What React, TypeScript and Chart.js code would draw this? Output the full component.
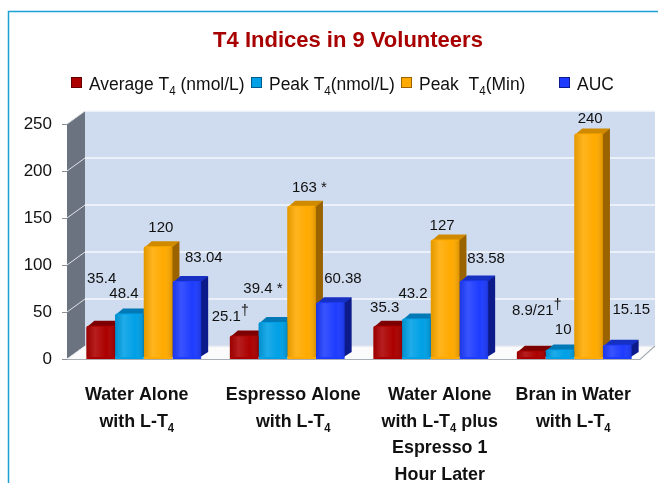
import { useEffect, useRef } from "react";
import { Chart, registerables } from "chart.js";

Chart.register(...registerables);

// ---------- data ----------
const CATEGORIES: string[][] = [
  ["Water Alone", "with L-T_4"],
  ["Espresso Alone", "with L-T_4"],
  ["Water Alone", "with L-T_4 plus", "Espresso 1", "Hour Later"],
  ["Bran in Water", "with L-T_4"],
];
const SERIES_NAMES = ["Average T_4 (nmol/L)", "Peak T_4(nmol/L)", "Peak  T_4(Min)", "AUC"];
const AVERAGE_T4 = [35.4, 25.1, 35.3, 8.9];
const PEAK_T4 = [48.4, 39.4, 43.2, 10];
const PEAK_TIME = [120, 163, 127, 240];
const AUC = [83.04, 60.38, 83.58, 15.15];
const AVERAGE_T4_TEXT = ["35.4", "25.1^†", "35.3", "8.9/21^†"];
const PEAK_T4_TEXT = ["48.4", "39.4 *", "43.2", "10"];
const PEAK_TIME_TEXT = ["120", "163 *", "127", "240"];
const AUC_TEXT = ["83.04", "60.38", "83.58", "15.15"];
const Y_MIN = 0;
const Y_MAX = 250;
const Y_STEP = 50;
const TITLE = "T4 Indices in 9 Volunteers";

// ---------- layout / style ----------
const SERIES = [AVERAGE_T4, PEAK_T4, PEAK_TIME, AUC];
const SERIES_TEXT = [AVERAGE_T4_TEXT, PEAK_T4_TEXT, PEAK_TIME_TEXT, AUC_TEXT];
const FRONT = ["#ac0000", "#00a0e6", "#ffaa00", "#1e3cff"];
const TOPC = ["#7c0000", "#0079b6", "#cf8a00", "#1630c4"];
const SIDE = ["#640000", "#005b8c", "#9a6300", "#0c1a8a"];
// label offsets (dx, dy) relative to bar front-top centre
const LABEL_OFFSETS: number[][][] = [
  [[1, -48], [-14, -20], [-3, -19], [5.5, -41]],
  [[-5.5, -20.5], [-10, -34], [-3.4, -26], [3.3, -21]],
  [[2.7, -20], [7.8, -19], [-3, -15], [1.6, -16]],
  [[17, -24], [12.6, -25], [12.3, -23], [14, -36]],
];
const LEGEND_X = [71, 251, 401, 559];
const X_LABEL_DX = [-7, 6, 9, -1];
const FAM = "'Liberation Sans', Arial, Helvetica, sans-serif";
const D3X = 7;
const D3Y = 5;

type Seg = { t: string; k: "n" | "sub" | "sup"; w?: number };

function drawRich(
  ctx: CanvasRenderingContext2D,
  text: string,
  x: number,
  y: number,
  size: number,
  bold: boolean,
  align: "left" | "center",
  color: string,
  hs = 1
) {
  const segs: Seg[] = [];
  let buf = "";
  for (let i = 0; i < text.length; i++) {
    const ch = text[i];
    if ((ch === "_" || ch === "^") && i + 1 < text.length) {
      if (buf) segs.push({ t: buf, k: "n" });
      buf = "";
      segs.push({ t: text[i + 1], k: ch === "_" ? "sub" : "sup" });
      i++;
    } else buf += ch;
  }
  if (buf) segs.push({ t: buf, k: "n" });
  const fontFor = (k: string) => {
    const s = k === "n" ? size : k === "sub" ? Math.round(size * 0.65) : Math.round(size * 0.9);
    return `${bold ? "bold " : ""}${s}px ${FAM}`;
  };
  let w = 0;
  for (const s of segs) {
    ctx.font = fontFor(s.k);
    s.w = ctx.measureText(s.t).width;
    w += s.w;
  }
  const start = align === "center" ? x - (w * hs) / 2 : x;
  ctx.save();
  ctx.translate(start, y);
  ctx.scale(hs, 1);
  ctx.textAlign = "left";
  ctx.textBaseline = "alphabetic";
  ctx.fillStyle = color;
  let cx = 0;
  for (const s of segs) {
    ctx.font = fontFor(s.k);
    const dy = s.k === "sub" ? size * 0.28 : s.k === "sup" ? -size * 0.38 : 0;
    ctx.fillText(s.t, cx, dy);
    cx += s.w || 0;
  }
  ctx.restore();
}

function poly(ctx: CanvasRenderingContext2D, pts: number[][], fill: string) {
  ctx.beginPath();
  ctx.moveTo(pts[0][0], pts[0][1]);
  for (let i = 1; i < pts.length; i++) ctx.lineTo(pts[i][0], pts[i][1]);
  ctx.closePath();
  ctx.fillStyle = fill;
  ctx.fill();
}

const decoPlugin = {
  id: "deco3d",
  beforeDraw(chart: any) {
    const { ctx, chartArea: ca } = chart;
    const ys = chart.scales.y;
    ctx.save();
    ctx.fillStyle = "#ffffff";
    ctx.fillRect(0, 0, chart.width, chart.height);
    // frame
    ctx.strokeStyle = "#1ba1d6";
    ctx.lineWidth = 1.5;
    ctx.beginPath();
    ctx.moveTo(8.5, chart.height);
    ctx.lineTo(8.5, 11.5);
    ctx.lineTo(chart.width, 11.5);
    ctx.stroke();

    const fx = ca.left - 5;
    const bx = fx + 18;
    const DY = 13;
    const top = ys.getPixelForValue(Y_MAX);
    const base = ys.getPixelForValue(Y_MIN);
    const right = ca.right + 9;
    // back wall
    ctx.fillStyle = "#cfdbee";
    ctx.fillRect(bx, top - DY, right - bx, base - top);
    // left wall
    poly(ctx, [[fx, top], [bx, top - DY], [bx, base - DY], [fx, base]], "#6b7380");
    // floor
    poly(ctx, [[fx, base], [bx, base - DY], [right, base - DY], [right - 15, base]], "#fbfbfb");
    // grid lines
    for (let v = Y_MIN; v <= Y_MAX; v += Y_STEP) {
      const py = ys.getPixelForValue(v);
      ctx.strokeStyle = v === Y_MIN ? "#e2e6ee" : "#f4f7fc";
      ctx.lineWidth = 1.5;
      ctx.beginPath();
      ctx.moveTo(bx, py - DY);
      ctx.lineTo(right, py - DY);
      ctx.stroke();
      ctx.strokeStyle = "#dfe3ea";
      ctx.lineWidth = 1;
      ctx.beginPath();
      ctx.moveTo(fx, py);
      ctx.lineTo(bx, py - DY);
      ctx.stroke();
      ctx.strokeStyle = "#8a8f98";
      ctx.beginPath();
      ctx.moveTo(fx - 5, py + 0.5);
      ctx.lineTo(fx, py + 0.5);
      ctx.stroke();
    }
    // floor front edges
    ctx.strokeStyle = "#a9adb4";
    ctx.lineWidth = 1.2;
    ctx.beginPath();
    ctx.moveTo(fx, base + 0.5);
    ctx.lineTo(right - 15, base + 0.5);
    ctx.lineTo(right, base - DY);
    ctx.stroke();
    ctx.restore();
  },
  beforeDatasetsDraw(chart: any) {
    const { ctx } = chart;
    ctx.save();
    const groups = CATEGORIES.length;
    for (let g = 0; g < groups; g++) {
      for (let d = 0; d < SERIES.length; d++) {
        const el = chart.getDatasetMeta(d).data[g];
        if (!el) continue;
        const l = el.x - el.width / 2;
        const r = el.x + el.width / 2;
        const t = el.y;
        const b = el.base - 2;
        poly(ctx, [[r - 1, t], [r + D3X, t - D3Y], [r + D3X, b - D3Y], [r - 1, b]], SIDE[d]);
        poly(ctx, [[l + 1, t + 1], [l + D3X + 1, t - D3Y], [r + D3X, t - D3Y], [r, t + 1]], TOPC[d]);
      }
    }
    ctx.restore();
  },
  afterDatasetsDraw(chart: any) {
    const { ctx } = chart;
    ctx.save();
    for (let d = 0; d < SERIES.length; d++) {
      const meta = chart.getDatasetMeta(d);
      meta.data.forEach((el: any) => {
        const l = el.x - el.width / 2;
        const r = el.x + el.width / 2;
        const grad = ctx.createLinearGradient(l, 0, r, 0);
        grad.addColorStop(0, "rgba(0,0,0,0.10)");
        grad.addColorStop(0.3, "rgba(255,255,255,0.12)");
        grad.addColorStop(0.7, "rgba(255,255,255,0.0)");
        grad.addColorStop(1, "rgba(0,0,0,0.14)");
        ctx.fillStyle = grad;
        ctx.fillRect(l, el.y + 1, r - l, el.base - 2 - el.y - 1);
      });
    }
    // data labels
    for (let d = 0; d < SERIES.length; d++) {
      const meta = chart.getDatasetMeta(d);
      meta.data.forEach((el: any, g: number) => {
        const [dx, dy] = LABEL_OFFSETS[d][g];
        drawRich(ctx, SERIES_TEXT[d][g], el.x + dx, el.y + dy + 5.4, 15, false, "center", "#111111");
      });
    }
    ctx.restore();
  },
  afterDraw(chart: any) {
    const { ctx } = chart;
    const xs = chart.scales.x;
    ctx.save();
    // title
    ctx.font = `bold 22px ${FAM}`;
    ctx.fillStyle = "#a80000";
    ctx.textAlign = "center";
    ctx.textBaseline = "alphabetic";
    ctx.fillText(TITLE, 348, 47);
    // legend
    SERIES_NAMES.forEach((name, i) => {
      const sx = LEGEND_X[i];
      const sy = 77;
      ctx.fillStyle = FRONT[i];
      ctx.fillRect(sx, sy, 11, 11);
      ctx.strokeStyle = SIDE[i];
      ctx.lineWidth = 1;
      ctx.strokeRect(sx + 0.5, sy + 0.5, 10, 10);
      drawRich(ctx, name, sx + 18, 89.5, 18, false, "left", "#111111", 0.97);
    });
    // category labels
    CATEGORIES.forEach((lines, i) => {
      const cx = xs.getPixelForValue(i) + X_LABEL_DX[i];
      lines.forEach((ln, j) => {
        drawRich(ctx, ln, cx, 400 + j * 26.5, 19, true, "center", "#111111", 0.94);
      });
    });
    ctx.restore();
  },
};

export default function App() {
  const ref = useRef<HTMLCanvasElement | null>(null);
  useEffect(() => {
    if (!ref.current) return;
    const chart = new Chart(ref.current, {
      type: "bar",
      data: {
        labels: CATEGORIES.map((c) => c.join(" ").replace(/_/g, "")),
        datasets: SERIES.map((vals, i) => ({
          label: SERIES_NAMES[i].replace(/_/g, ""),
          data: vals,
          backgroundColor: FRONT[i],
          borderWidth: 0,
          borderRadius: 2,
          categoryPercentage: 0.8,
          barPercentage: 1.0,
        })),
      },
      options: {
        responsive: false,
        animation: false,
        devicePixelRatio: 1,
        layout: { padding: { left: 0, right: 12, top: 124, bottom: 124 } },
        plugins: {
          legend: { display: false },
          title: { display: false },
          tooltip: { enabled: false },
        },
        scales: {
          x: { display: false },
          y: {
            min: Y_MIN,
            max: Y_MAX,
            ticks: {
              stepSize: Y_STEP,
              padding: 20,
              color: "#111111",
              font: { family: FAM, size: 17 },
            },
            grid: { display: false, drawTicks: false },
            border: { display: false },
            afterFit: (scale: any) => {
              scale.width = 72;
            },
          },
        },
      },
      plugins: [decoPlugin],
    });
    return () => chart.destroy();
  }, []);
  return (
    <div style={{ position: "fixed", left: 0, top: 0, width: 658, height: 483, background: "#fff" }}>
      <canvas ref={ref} width={658} height={483} style={{ width: 658, height: 483, display: "block" }} />
    </div>
  );
}
